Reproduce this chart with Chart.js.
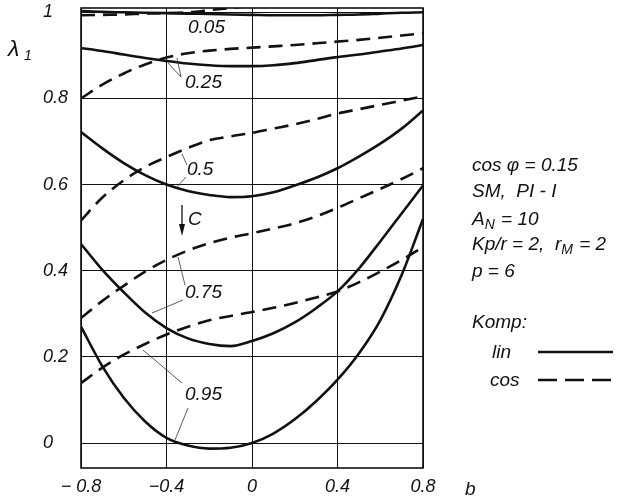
<!DOCTYPE html>
<html>
<head>
<meta charset="utf-8">
<script src="https://cdn.jsdelivr.net/npm/chart.js@4.4.0/dist/chart.umd.min.js"></script>
<style>
  html, body { margin: 0; padding: 0; background: #fff; }
</style>
</head>
<body>
<canvas id="chart" width="623" height="504"></canvas>
<script>
// b values (x axis)
const bValues = [-0.8, -0.7, -0.6, -0.5, -0.4, -0.3, -0.2, -0.1, 0, 0.1, 0.2, 0.3, 0.4, 0.5, 0.6, 0.7, 0.8];

// lambda_1 for each C, lin = solid, cos = dashed
const lin005 = [1.003, 1.001, 1.0, 0.999, 0.998, 0.997, 0.996, 0.995, 0.994, 0.993, 0.993, 0.993, 0.994, 0.995, 0.997, 0.999, 1.0];
const cos005 = [0.993, 0.994, 0.995, 0.997, 0.998, 1.0, 1.005, 1.01, 1.015, 1.02, 1.024, 1.028, 1.03, 1.032, 1.034, 1.036, 1.038];
const lin025 = [0.917, 0.91, 0.902, 0.894, 0.887, 0.881, 0.877, 0.875, 0.875, 0.877, 0.882, 0.889, 0.896, 0.902, 0.909, 0.916, 0.924];
const cos025 = [0.80, 0.832, 0.858, 0.879, 0.895, 0.905, 0.911, 0.915, 0.918, 0.921, 0.924, 0.928, 0.932, 0.936, 0.941, 0.946, 0.951];
const lin05 = [0.722, 0.684, 0.65, 0.622, 0.6, 0.585, 0.576, 0.571, 0.573, 0.582, 0.598, 0.616, 0.638, 0.665, 0.695, 0.73, 0.772];
const cos05 = [0.517, 0.57, 0.61, 0.641, 0.664, 0.685, 0.703, 0.712, 0.72, 0.73, 0.74, 0.752, 0.765, 0.775, 0.785, 0.795, 0.805];
const lin075 = [0.462, 0.402, 0.35, 0.303, 0.267, 0.243, 0.23, 0.225, 0.237, 0.255, 0.28, 0.313, 0.352, 0.405, 0.468, 0.533, 0.598];
const cos075 = [0.29, 0.33, 0.365, 0.398, 0.425, 0.447, 0.464, 0.477, 0.487, 0.498, 0.51, 0.526, 0.546, 0.568, 0.59, 0.613, 0.638];
const lin095 = [0.27, 0.178, 0.105, 0.05, 0.012, -0.006, -0.013, -0.011, 0.0, 0.022, 0.055, 0.097, 0.147, 0.208, 0.285, 0.39, 0.52];
const cos095 = [0.139, 0.175, 0.205, 0.23, 0.252, 0.27, 0.285, 0.295, 0.304, 0.314, 0.325, 0.338, 0.352, 0.373, 0.398, 0.425, 0.455];

const xTicks = [-0.8, -0.4, 0, 0.4, 0.8];
const xTickLabels = ["\u2212 0.8", "\u22120.4", "0", "0.4", "0.8"];
const yTicks = [0, 0.2, 0.4, 0.6, 0.8, 1];
const yTickLabels = ["0", "0.2", "0.4", "0.6", "0.8", "1"];

const FONT = "'Liberation Sans', Arial, sans-serif";
const INK = "#111";

function series(vals, dashed) {
  return {
    data: bValues.map((b, i) => ({ x: b, y: vals[i] })),
    borderColor: INK,
    borderWidth: 2.6,
    borderDash: dashed ? [14, 8] : [],
    pointRadius: 0,
    cubicInterpolationMode: "monotone",
    fill: false,
    clip: 0
  };
}

// text with a subscript part: [[text, isSub], ...]
function richText(ctx, parts, x, y) {
  parts.forEach(([t, sub]) => {
    ctx.font = (sub ? "italic 14px " : "italic 19px ") + FONT;
    ctx.fillText(t, x, sub ? y + 4 : y);
    x += ctx.measureText(t).width + (sub ? 1 : 0);
  });
}

const extras = {
  id: "extras",
  afterDraw(chart) {
    const ctx = chart.ctx;
    const a = chart.chartArea;
    ctx.save();
    // frame
    ctx.strokeStyle = INK;
    ctx.lineWidth = 1.6;
    ctx.strokeRect(a.left, a.top, a.right - a.left, a.bottom - a.top);

    ctx.fillStyle = INK;
    ctx.textAlign = "left";
    ctx.textBaseline = "alphabetic";

    // axis titles
    ctx.font = "italic 23px " + FONT;
    ctx.fillText("\u03bb", 8, 56);
    ctx.font = "italic 14px " + FONT;
    ctx.fillText("1", 24, 60);
    ctx.font = "italic 19px " + FONT;
    ctx.fillText("b", 465, 495);

    // curve labels
    ctx.font = "italic 19px " + FONT;
    ctx.fillText("0.05", 188, 33);
    ctx.fillText("0.25", 185, 88);
    ctx.fillText("0.5", 187, 175);
    ctx.fillText("0.75", 185, 298);
    ctx.fillText("0.95", 185, 400);
    ctx.fillText("C", 188, 225);

    // pointer lines
    ctx.lineWidth = 0.8;
    ctx.strokeStyle = "#333";
    const ptr = [
      [181, 77, 168, 63], [181, 77, 177, 58],
      [187, 165, 182, 154], [186, 177, 176, 188],
      [185, 285, 178, 257], [183, 300, 152, 313],
      [182, 383, 143, 350], [188, 408, 175, 440]
    ];
    ptr.forEach(p => {
      ctx.beginPath();
      ctx.moveTo(p[0], p[1]);
      ctx.lineTo(p[2], p[3]);
      ctx.stroke();
    });

    // arrow C
    ctx.strokeStyle = INK;
    ctx.lineWidth = 1.3;
    ctx.beginPath();
    ctx.moveTo(182, 205);
    ctx.lineTo(182, 232);
    ctx.stroke();
    ctx.beginPath();
    ctx.moveTo(179, 224);
    ctx.lineTo(182, 236);
    ctx.lineTo(185, 224);
    ctx.closePath();
    ctx.fill();

    // parameter block
    const tx = 472;
    richText(ctx, [["cos \u03c6 = 0.15", false]], tx, 171);
    richText(ctx, [["SM,  PI - I", false]], tx, 197);
    richText(ctx, [["A", false], ["N", true], [" = 10", false]], tx, 225);
    richText(ctx, [["Kp/r = 2,  r", false], ["M", true], [" = 2", false]], tx, 250);
    richText(ctx, [["p = 6", false]], tx, 277);
    richText(ctx, [["Komp:", false]], tx, 328);

    // legend
    ctx.font = "italic 19px " + FONT;
    ctx.fillText("lin", 492, 358);
    ctx.fillText("cos", 490, 386);
    ctx.lineWidth = 2.6;
    ctx.beginPath();
    ctx.moveTo(538, 352);
    ctx.lineTo(613, 352);
    ctx.stroke();
    ctx.setLineDash([19, 8]);
    ctx.beginPath();
    ctx.moveTo(538, 380);
    ctx.lineTo(613, 380);
    ctx.stroke();
    ctx.restore();
  }
};

new Chart(document.getElementById("chart"), {
  type: "line",
  data: {
    datasets: [
      series(lin005, false), series(cos005, true),
      series(lin025, false), series(cos025, true),
      series(lin05, false), series(cos05, true),
      series(lin075, false), series(cos075, true),
      series(lin095, false), series(cos095, true)
    ]
  },
  options: {
    responsive: false,
    animation: false,
    layout: { padding: { left: 43, right: 200, top: 8, bottom: 0 } },
    plugins: { legend: { display: false }, tooltip: { enabled: false } },
    scales: {
      x: {
        type: "linear",
        min: -0.8,
        max: 0.8,
        afterBuildTicks: s => { s.ticks = xTicks.map(v => ({ value: v })); },
        afterFit: s => { s.height = 36; s.paddingLeft = 0; s.paddingRight = 0; },
        grid: { color: INK, lineWidth: 1, drawTicks: false },
        border: { display: false },
        ticks: {
          padding: 8,
          color: INK,
          font: { family: FONT, size: 18, style: "italic" },
          callback: v => xTickLabels[xTicks.indexOf(v)]
        }
      },
      y: {
        min: -0.058,
        max: 1.01,
        afterBuildTicks: s => { s.ticks = yTicks.map(v => ({ value: v })); },
        afterFit: s => { s.width = 38; s.paddingTop = 0; s.paddingBottom = 0; },
        grid: { color: INK, lineWidth: 1, drawTicks: false },
        border: { display: false },
        ticks: {
          crossAlign: "far",
          color: INK,
          font: { family: FONT, size: 18, style: "italic" },
          callback: v => yTickLabels[yTicks.indexOf(v)]
        }
      }
    }
  },
  plugins: [extras]
});
</script>
</body>
</html>
